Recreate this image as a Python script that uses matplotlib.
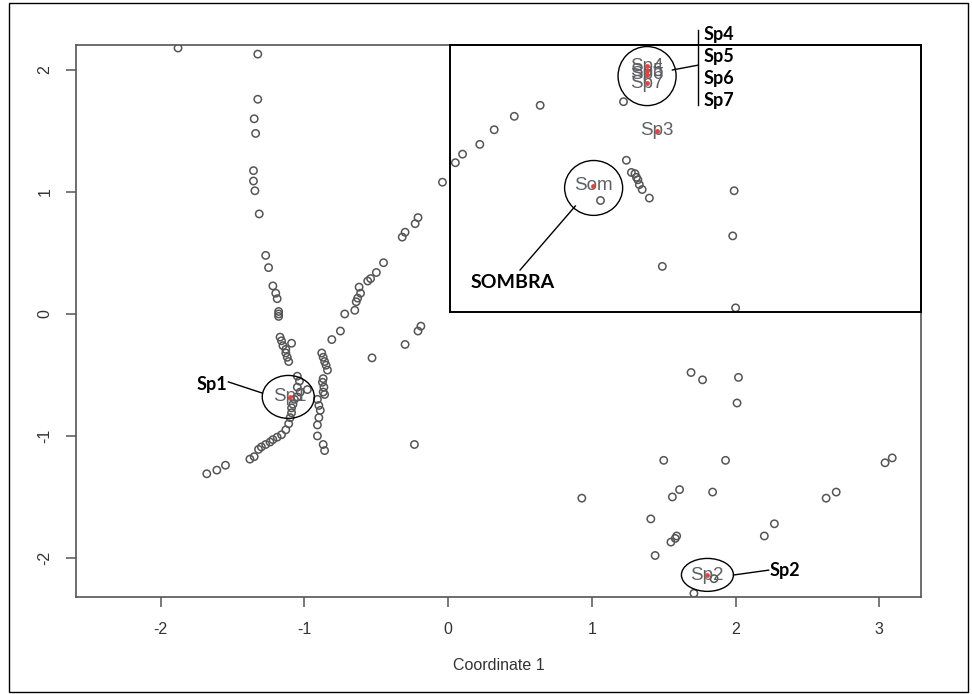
import matplotlib.pyplot as plt
import matplotlib.patches as patches

plt.rcParams['axes.unicode_minus'] = False

# MDS coordinates
coord1 = [-1.88, -1.325, -1.325, -1.35, -1.34, -1.355, -1.355, -1.345, -1.315, -1.27,
          -1.25, -1.22, -1.20, -1.19, -1.18, -1.18, -1.18,
          -1.17, -1.16, -1.15, -1.13, -1.13, -1.12, -1.11, -1.09,
          -1.05, -1.035, -1.05, -1.03, -1.05, -1.07, -1.08, -1.09, -1.09, -1.10, -0.98,
          -1.11, -1.13, -1.16, -1.19, -1.22, -1.24, -1.27, -1.30, -1.32, -1.35, -1.38,
          -1.55, -1.61, -1.68,
          -0.88, -0.87, -0.86, -0.85, -0.84, -0.87, -0.875, -0.865, -0.87, -0.86,
          -0.91, -0.90, -0.89, -0.90, -0.91, -0.91, -0.87, -0.86,
          -0.81, -0.75, -0.72, -0.65, -0.64, -0.63, -0.61, -0.62, -0.56, -0.54, -0.50,
          -0.45, -0.32, -0.30, -0.23, -0.21,
          -0.19, -0.21, -0.30, -0.53, -0.235,
          -0.04, 0.05, 0.10, 0.22, 0.32, 0.46, 0.64, 1.22,
          1.24, 1.275, 1.30, 1.31, 1.32, 1.33, 1.35, 1.40, 1.06, 1.99, 1.98, 1.49, 2.00,
          1.69, 1.77, 2.02, 2.01, 1.50, 1.93, 3.04, 3.09, 0.93, 1.56, 1.61, 1.84,
          2.63, 2.70, 1.41, 2.27, 2.20, 1.55, 1.58, 1.59, 1.44, 1.71, 1.85]
coord2 = [2.18, 2.13, 1.76, 1.60, 1.48, 1.175, 1.09, 1.01, 0.82, 0.48,
          0.38, 0.23, 0.17, 0.125, 0.02, 0.0, -0.02,
          -0.19, -0.22, -0.26, -0.29, -0.32, -0.355, -0.39, -0.24,
          -0.51, -0.55, -0.60, -0.64, -0.68, -0.70, -0.74, -0.77, -0.81, -0.85, -0.62,
          -0.90, -0.95, -0.99, -1.01, -1.03, -1.05, -1.07, -1.09, -1.11, -1.17, -1.19,
          -1.24, -1.28, -1.31,
          -0.32, -0.355, -0.39, -0.42, -0.46, -0.53, -0.56, -0.60, -0.64, -0.66,
          -0.70, -0.75, -0.79, -0.85, -0.91, -1.00, -1.07, -1.12,
          -0.21, -0.14, 0.00, 0.03, 0.10, 0.13, 0.17, 0.22, 0.27, 0.29, 0.34,
          0.42, 0.63, 0.67, 0.74, 0.79,
          -0.10, -0.14, -0.25, -0.36, -1.07,
          1.08, 1.24, 1.31, 1.39, 1.51, 1.62, 1.71, 1.74,
          1.26, 1.16, 1.15, 1.12, 1.10, 1.06, 1.02, 0.95, 0.93, 1.01, 0.64, 0.39, 0.05,
          -0.48, -0.54, -0.52, -0.73, -1.20, -1.20, -1.22, -1.18, -1.51, -1.50, -1.44, -1.46,
          -1.51, -1.46, -1.68, -1.72, -1.82, -1.87, -1.84, -1.82, -1.98, -2.29, -2.17]

# centroid labels plotted in grey with a red dot
cent_names = ["Sp4", "Sp5", "Sp6", "Sp7", "Sp3", "Som", "Sp1", "Sp2"]
cent_x = [1.38, 1.38, 1.38, 1.38, 1.455, 1.01, -1.10, 1.80]
cent_y = [2.03, 1.99, 1.96, 1.89, 1.50, 1.05, -0.68, -2.14]

xlim = (-2.59, 3.29)
ylim = (-2.32, 2.205)

fig = plt.figure(figsize=(9.72, 6.94), dpi=100)
ax = fig.add_axes([0.0782, 0.1398, 0.8693, 0.7954])

ax.scatter(coord1, coord2, s=28, facecolors="none", edgecolors="#555555",
           linewidths=1.1, zorder=3)
for name, x, y in zip(cent_names, cent_x, cent_y):
    ax.text(x, y, name, color="#5f6166", fontsize=13.5, family="Liberation Sans",
            ha="center", va="center", zorder=4)
ax.scatter(cent_x, cent_y, s=6, color="#e8403a", zorder=5)

ax.set_xlim(*xlim)
ax.set_ylim(*ylim)
ax.set_xticks([-2, -1, 0, 1, 2, 3])
ax.set_yticks([-2, -1, 0, 1, 2])
for sp in ax.spines.values():
    sp.set_color("#555555")
    sp.set_linewidth(1.2)
ax.tick_params(direction="out", length=7, width=1.1, color="#555555",
               labelcolor="#333333", labelsize=11.5)
ax.tick_params(axis="x", pad=11)
ax.tick_params(axis="y", pad=10)
for lab in ax.get_xticklabels() + ax.get_yticklabels():
    lab.set_family("Liberation Sans")
for lab in ax.get_yticklabels():
    lab.set_rotation(90)
    lab.set_va("center")
ax.set_xlabel("Coordinate 1", fontsize=11.5, color="#333333",
              family="Liberation Sans", labelpad=15)

# highlighted region box
ax.add_patch(patches.Rectangle((0.01, 0.015), xlim[1] - 0.01, ylim[1] - 0.015,
                               fill=False, edgecolor="black", linewidth=1.4,
                               zorder=6, clip_on=False))

# circles around centroids
circles = [((1.384, 1.95), 0.404, 0.484),
           ((1.012, 1.033), 0.404, 0.45),
           ((-1.113, -0.68), 0.362, 0.352),
           ((1.804, -2.139), 0.362, 0.27)]
for c, w, h in circles:
    ax.add_patch(patches.Ellipse(c, w, h, fill=False, edgecolor="black",
                                 linewidth=1.0, zorder=6))

lab_font = dict(family="Lato", fontweight="bold", fontsize=13, color="black")

# Sp4..Sp7 callout
ax.plot([1.56, 1.741], [2.0, 2.04], color="black", lw=1.0, zorder=6, clip_on=False)
ax.plot([1.741, 1.741], [1.71, 2.33], color="black", lw=1.0, zorder=6, clip_on=False)
for name, y in zip(["Sp4", "Sp5", "Sp6", "Sp7"], [2.29, 2.11, 1.93, 1.75]):
    ax.text(1.776, y, name, ha="left", va="center", clip_on=False, **lab_font)

# SOMBRA callout
ax.plot([0.885, 0.50], [0.885, 0.36], color="black", lw=1.0, zorder=6)
ax.text(0.154, 0.26, "SOMBRA", ha="left", va="center",
        **dict(lab_font, fontsize=14))

# Sp1 callout
ax.plot([-1.53, -1.295], [-0.557, -0.648], color="black", lw=1.0, zorder=6)
ax.text(-1.535, -0.58, "Sp1", ha="right", va="center", **lab_font)

# Sp2 callout
ax.plot([1.985, 2.23], [-2.14, -2.10], color="black", lw=1.0, zorder=6)
ax.text(2.235, -2.10, "Sp2", ha="left", va="center", **lab_font)

# outer frame of the figure
fig.patches.append(patches.Rectangle((0.009, 0.003), 0.987, 0.992, fill=False,
                                     edgecolor="black", linewidth=1.0,
                                     transform=fig.transFigure, figure=fig))

fig.savefig("out.png", dpi=100)
